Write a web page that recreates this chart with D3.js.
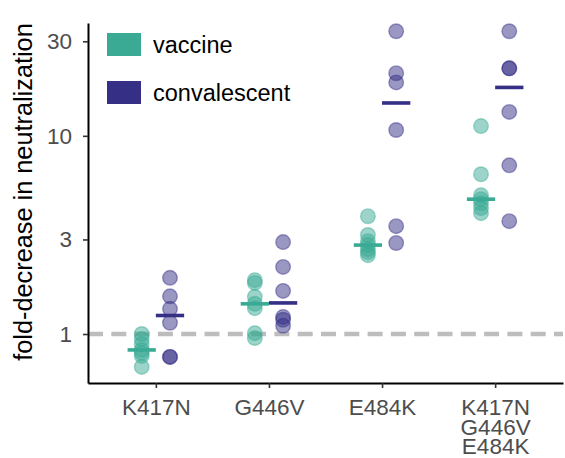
<!DOCTYPE html>
<html>
<head>
<meta charset="utf-8">
<script src="https://cdn.jsdelivr.net/npm/d3@7"></script>
<style>
  html, body { margin: 0; padding: 0; background: #fff; }
  svg { display: block; font-family: "Liberation Sans", Arial, Helvetica, sans-serif; }
</style>
</head>
<body>
<svg id="chart" width="565" height="458"></svg>
<script>
// Mutations tested (x categories); multi-line labels split on "\n"
const mutations = ["K417N", "G446V", "E484K", "K417N\nG446V\nE484K"];

// Fold-decrease in neutralization per serum, one array per mutation
const vaccineValues = [
  [1.0, 0.944, 0.890, 0.831, 0.802, 0.775, 0.682],
  [1.87, 1.81, 1.54, 1.42, 1.35, 1.01, 0.955],
  [3.93, 3.16, 2.94, 2.81, 2.68, 2.59, 2.50],
  [11.2, 6.4, 5.02, 4.79, 4.57, 4.32, 4.07]
];
const convalescentValues = [
  [1.92, 1.55, 1.34, 1.14, 0.766, 0.766],
  [2.91, 2.18, 1.65, 1.22, 1.18, 1.10],
  [33.7, 20.7, 18.6, 10.7, 3.5, 2.88],
  [33.7, 21.9, 21.9, 13.2, 7.1, 3.71]
];

const yTicks = [1, 3, 10, 30];
const groups = ["vaccine", "convalescent"];
const groupColors = ["#3AAA94", "#352F85"];
const referenceLine = 1;

const svg = d3.select("#chart");
const plotLeft = 88, plotRight = 563, plotTop = 23, plotBottom = 383;

const x = d3.scaleLinear().domain([0.4, mutations.length + 0.6]).range([plotLeft, plotRight]);
const y = d3.scaleLog().domain([0.566, 37.1]).range([plotBottom, plotTop]);
const dodge = 0.125;
const color = d3.scaleOrdinal().domain(groups).range(groupColors);

// dashed reference line at no change
svg.append("line")
  .attr("x1", plotLeft).attr("x2", plotRight)
  .attr("y1", y(referenceLine)).attr("y2", y(referenceLine))
  .attr("stroke", "#BDBDBD").attr("stroke-width", 4.5)
  .attr("stroke-dasharray", "15,8.3");

// points and medians
const series = [vaccineValues, convalescentValues];
series.forEach((byMutation, gi) => {
  const g = groups[gi];
  const off = gi === 0 ? -dodge : dodge;
  byMutation.forEach((vals, mi) => {
    const cx = x(mi + 1 + off);
    svg.append("g").selectAll("circle")
      .data(vals).join("circle")
      .attr("cx", cx).attr("cy", d => y(d)).attr("r", 7.3)
      .attr("fill", color(g)).attr("fill-opacity", 0.5)
      .attr("stroke", color(g)).attr("stroke-opacity", 0.45).attr("stroke-width", 1.4);
  });
});
series.forEach((byMutation, gi) => {
  const g = groups[gi];
  byMutation.forEach((vals, mi) => {
    const x0 = gi === 0 ? x(mi + 1 - 2 * dodge) : x(mi + 1);
    const x1 = gi === 0 ? x(mi + 1) : x(mi + 1 + 2 * dodge);
    const m = d3.median(vals);
    svg.append("rect")
      .attr("x", x0).attr("width", x1 - x0)
      .attr("y", y(m) - 1.8).attr("height", 3.6)
      .attr("fill", color(g));
  });
});

// y axis
const yAxis = svg.append("g").attr("transform", `translate(${plotLeft},0)`)
  .call(d3.axisLeft(y).tickValues(yTicks).tickFormat(d3.format("d")).tickSize(5).tickPadding(11).tickSizeOuter(0));
yAxis.select(".domain").attr("stroke", "#000").attr("stroke-width", 2);
yAxis.selectAll(".tick line").attr("stroke", "#333").attr("stroke-width", 1.6);
yAxis.selectAll(".tick text").attr("fill", "#4D4D4D").style("font-size", "22.5px");

// x axis
const xAxis = svg.append("g").attr("transform", `translate(0,${plotBottom})`)
  .call(d3.axisBottom(x).tickValues(d3.range(1, mutations.length + 1)).tickSize(5).tickSizeOuter(0).tickFormat(""));
xAxis.select(".domain").attr("stroke", "#000").attr("stroke-width", 2);
xAxis.selectAll(".tick line").attr("stroke", "#333").attr("stroke-width", 1.6);
xAxis.selectAll(".tick").each(function(d) {
  const lines = mutations[d - 1].split("\n");
  const t = d3.select(this).append("text")
    .attr("fill", "#4D4D4D").attr("text-anchor", "middle")
    .style("font-size", "22.5px");
  lines.forEach((ln, i) => {
    t.append("tspan").attr("x", 0).attr("y", 32 + i * 19.7).text(ln);
  });
});

// y axis title
svg.append("text")
  .attr("transform", `translate(32,${(22 + 362) / 2}) rotate(-90)`)
  .attr("text-anchor", "middle")
  .attr("fill", "#000")
  .style("font-size", "25.3px")
  .text("fold-decrease in neutralization");

// legend
const legend = svg.append("g");
groups.forEach((g, i) => {
  const ly = 33 + i * 48;
  legend.append("rect")
    .attr("x", 107).attr("y", ly).attr("width", 34).attr("height", 23)
    .attr("fill", color(g));
  legend.append("text")
    .attr("x", 153).attr("y", ly + 19.5)
    .attr("fill", "#000").style("font-size", "23.5px")
    .text(g);
});
</script>
</body>
</html>
